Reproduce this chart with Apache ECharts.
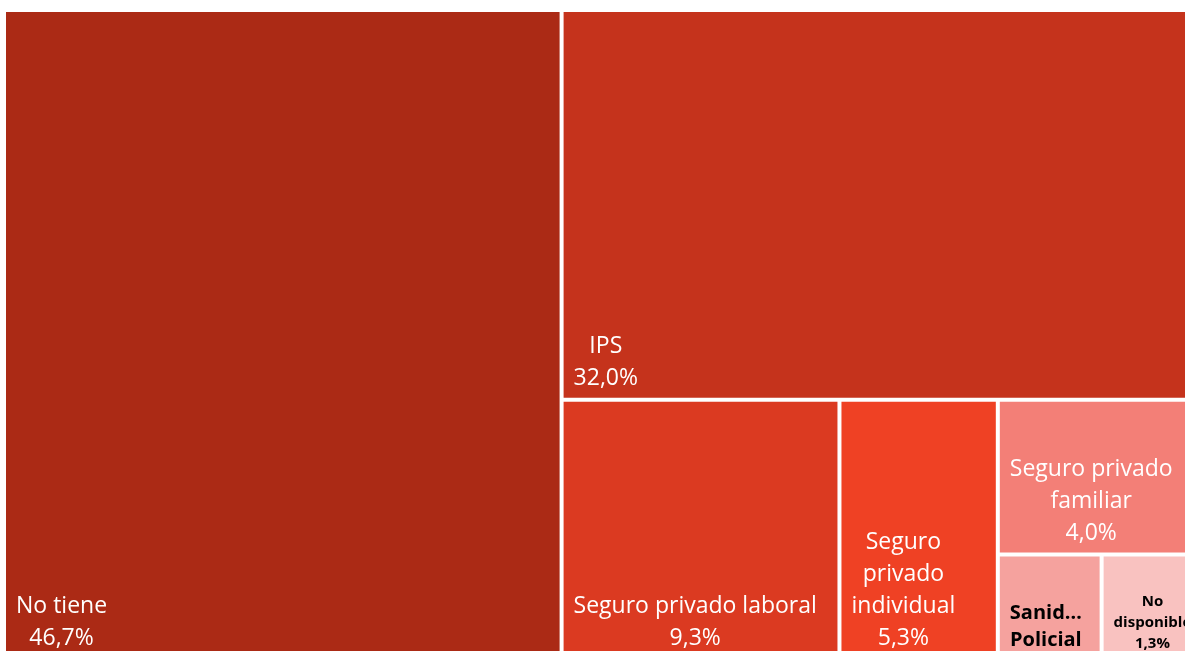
<!DOCTYPE html>
<html>
<head>
<meta charset="utf-8">
<script src="https://cdn.jsdelivr.net/npm/echarts@6/dist/echarts.min.js"></script>
<style>
  html, body { margin: 0; padding: 0; background: #fff; }
  #chart { width: 1185px; height: 651px; }
</style>
</head>
<body>
<div id="chart"></div>
<script>
const categories = ["No tiene", "IPS", "Seguro privado laboral", "Seguro privado individual", "Seguro privado familiar", "Sanidad Policial", "No disponible"];
const values = [46.7, 32.0, 9.3, 5.3, 4.0, 1.4, 1.3];
// names as they are wrapped / cut in the picture
const labelNames = [["No tiene"], ["IPS"], ["Seguro privado laboral"], ["Seguro", "privado", "individual"], ["Seguro privado", "familiar"], ["Sanid…", "Policial"], ["No", "disponible"]];
const showPercent = [true, true, true, true, true, false, true];

const colors = ["#ab2a15", "#c5331c", "#db3a21", "#ef4124", "#f37f77", "#f5a29e", "#f9c2c0"];
const FONT = '"Open Sans", sans-serif';
const labelKinds = ["big", "big", "big", "big", "big", "mid", "small"];
const kindStyle = {
  big: { color: "#fff", fontSize: 23, fontWeight: "normal", lineHeight: 32 },
  mid: { color: "#000", fontSize: 20, fontWeight: "bold", lineHeight: 27 },
  small: { color: "#000", fontSize: 15, fontWeight: "bold", lineHeight: 21 },
};

const ctx = document.createElement("canvas").getContext("2d");
function blockWidth(lines, s) {
  ctx.font = s.fontWeight + " " + s.fontSize + "px " + FONT;
  return Math.max(...lines.map((l) => ctx.measureText(l).width));
}
const pct = (v) => v.toFixed(1).replace(".", ",") + "%";

const data = categories.map((name, i) => {
  const lines = labelNames[i].concat(showPercent[i] ? [pct(values[i])] : []);
  const s = kindStyle[labelKinds[i]];
  const w = blockWidth(lines, s);
  return {
    name,
    value: values[i],
    itemStyle: { color: colors[i] },
    label: { formatter: lines.join("\n"), ...s, fontFamily: FONT, align: "center", offset: [w / 2 + 5, 7] },
  };
});

const chart = echarts.init(document.getElementById("chart"), null, { renderer: "canvas" });
chart.setOption({
  animation: false,
  series: [
    {
      type: "treemap",
      left: 6,
      top: 12,
      width: 1190,
      height: 645,
      squareRatio: 1,
      roam: false,
      nodeClick: false,
      breadcrumb: { show: false },
      label: { show: true, position: "insideBottomLeft", distance: 5, overflow: "none" },
      itemStyle: { borderWidth: 0, gapWidth: 4, borderColor: "#fff" },
      levels: [{ itemStyle: { borderWidth: 0, gapWidth: 4 } }],
      data,
    },
  ],
});
</script>
</body>
</html>
